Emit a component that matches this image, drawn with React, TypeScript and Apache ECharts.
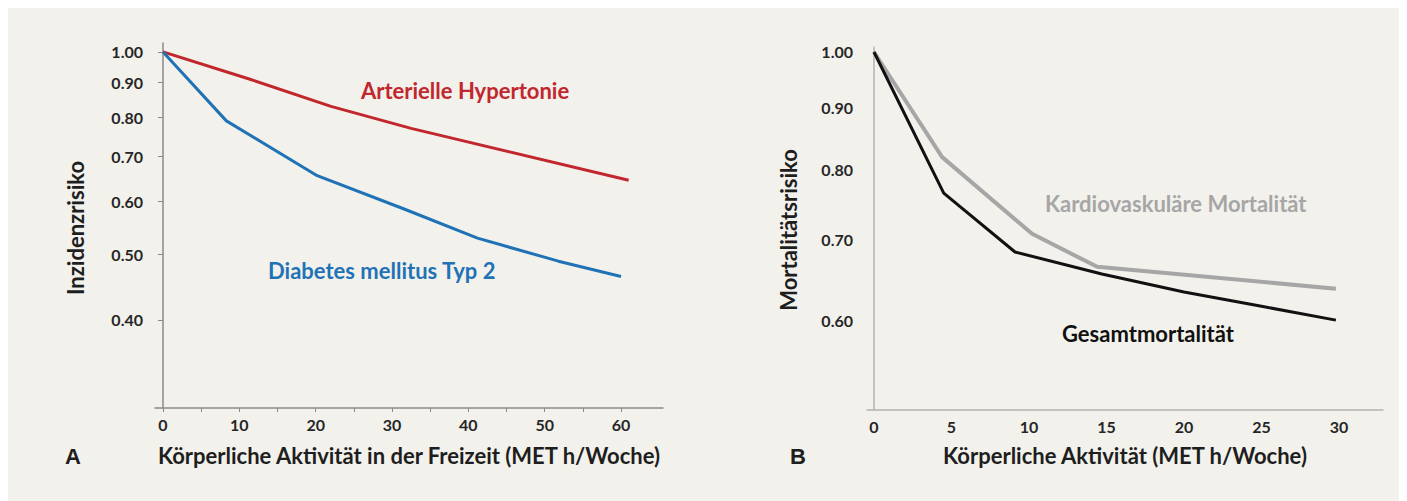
import React, { useEffect, useRef } from "react";
import * as echarts from "echarts";

// Panel A: Körperliche Aktivität in der Freizeit (MET h/Woche) vs. Inzidenzrisiko
const hyperX = [0, 11.5, 22, 32.5, 61];
const hyperY = [1.0, 0.91, 0.83, 0.77, 0.645];
const diabX = [0, 8.3, 20.2, 31.5, 41.2, 51.8, 60];
const diabY = [1.0, 0.79, 0.655, 0.585, 0.529, 0.489, 0.464];
const aYTicks = [0.4, 0.5, 0.6, 0.7, 0.8, 0.9, 1.0];
const aXLabels = [0, 10, 20, 30, 40, 50, 60];
const aXTicks = [0, 5, 10, 15, 20, 25, 30, 35, 40, 45, 50, 55, 60];

// Panel B: Körperliche Aktivität (MET h/Woche) vs. Mortalitätsrisiko
const kardioX = [0, 4.4, 10.2, 14.4, 29.8];
const kardioY = [1.0, 0.819, 0.708, 0.665, 0.638];
const gesamtX = [0, 4.5, 9.1, 14.7, 20, 25, 29.8];
const gesamtY = [1.0, 0.765, 0.684, 0.656, 0.634, 0.617, 0.601];
const bYTicks = [0.6, 0.7, 0.8, 0.9, 1.0];
const bXLabels = [0, 5, 10, 15, 20, 25, 30];

const FONT = "Lato, 'Open Sans', sans-serif";
const BG = "#f3f1ec";

const zip = (xs: number[], ys: number[]) => xs.map((x, i) => [x, ys[i]]);

export default function App() {
  const ref = useRef<HTMLDivElement>(null);
  useEffect(() => {
    if (!ref.current) return;
    const chart = echarts.init(ref.current, undefined, { renderer: "svg" });
    const labelStyle = { color: "#262626", fontFamily: FONT, fontWeight: "bold" as const, fontSize: 16 };
    const nameStyle = { color: "#1e1e1e", fontFamily: FONT, fontWeight: "bold" as const, fontSize: 22 };
    chart.setOption({
      animation: false,
      backgroundColor: BG,
      grid: [
        { left: 147, top: 35, width: 508, height: 365 },
        { left: 859, top: 39, width: 516, height: 363 },
      ],
      xAxis: [
        {
          gridIndex: 0, type: "value", min: -1.05, max: 65.5,
          splitLine: { show: false },
          axisLine: { lineStyle: { color: "#8a8a8a", width: 1.5 } },
          axisTick: { show: true, customValues: aXTicks, length: 4, lineStyle: { color: "#8a8a8a" } },
          axisLabel: { customValues: aXLabels, margin: 8, ...labelStyle },
          name: "Körperliche Aktivität in der Freizeit (MET h/Woche)",
          nameLocation: "middle", nameGap: 36, nameTextStyle: nameStyle,
        },
        {
          gridIndex: 1, type: "value", min: -0.45, max: 32.84,
          splitLine: { show: false },
          axisLine: { lineStyle: { color: "#b3b3b3", width: 1.5 } },
          axisTick: { show: false },
          axisLabel: { customValues: bXLabels, margin: 8, ...labelStyle },
          name: "Körperliche Aktivität (MET h/Woche)",
          nameLocation: "middle", nameGap: 34, nameTextStyle: nameStyle,
        },
      ],
      yAxis: [
        {
          gridIndex: 0, type: "log", min: 0.296, max: 1.031,
          splitLine: { show: false }, minorTick: { show: false },
          axisLine: { show: true, lineStyle: { color: "#8a8a8a", width: 1.5 } },
          axisTick: { show: true, customValues: aYTicks, length: 5, lineStyle: { color: "#8a8a8a" } },
          axisLabel: { customValues: aYTicks, margin: 12, formatter: (v: number) => v.toFixed(2), ...labelStyle },
        },
        {
          gridIndex: 1, type: "log", min: 0.5067, max: 1.0095,
          splitLine: { show: false }, minorTick: { show: false },
          axisLine: { show: true, lineStyle: { color: "#b3b3b3", width: 1.5 } },
          axisTick: { show: false },
          axisLabel: { customValues: bYTicks, margin: 14, formatter: (v: number) => v.toFixed(2), ...labelStyle },
        },
      ],
      series: [
        { type: "line", xAxisIndex: 0, yAxisIndex: 0, data: zip(hyperX, hyperY), symbol: "none", lineStyle: { color: "#c1272d", width: 3 } },
        { type: "line", xAxisIndex: 0, yAxisIndex: 0, data: zip(diabX, diabY), symbol: "none", lineStyle: { color: "#1f72b6", width: 3 } },
        { type: "line", xAxisIndex: 1, yAxisIndex: 1, data: zip(kardioX, kardioY), symbol: "none", lineStyle: { color: "#a6a6a6", width: 4 } },
        { type: "line", xAxisIndex: 1, yAxisIndex: 1, data: zip(gesamtX, gesamtY), symbol: "none", lineStyle: { color: "#111111", width: 3 } },
      ],
      graphic: [
        { type: "text", x: 67, y: 220, rotation: Math.PI / 2, style: { text: "Inzidenzrisiko", align: "center", verticalAlign: "middle", fill: "#1e1e1e", font: `bold 22px ${FONT}` } },
        { type: "text", x: 780, y: 222, rotation: Math.PI / 2, style: { text: "Mortalitätsrisiko", align: "center", verticalAlign: "middle", fill: "#1e1e1e", font: `bold 22px ${FONT}` } },
        { type: "text", x: 57, y: 448, style: { text: "A", align: "left", verticalAlign: "middle", fill: "#1e1e1e", font: `bold 22px Arial, 'Liberation Sans', sans-serif` } },
        { type: "text", x: 782, y: 448, style: { text: "B", align: "left", verticalAlign: "middle", fill: "#1e1e1e", font: `bold 22px Arial, 'Liberation Sans', sans-serif` } },
        { type: "text", x: 353, y: 82, style: { text: "Arterielle Hypertonie", align: "left", verticalAlign: "middle", fill: "#c1272d", font: `bold 22px ${FONT}` } },
        { type: "text", x: 260, y: 262, style: { text: "Diabetes mellitus Typ 2", align: "left", verticalAlign: "middle", fill: "#1f72b6", font: `bold 22px ${FONT}` } },
        { type: "text", x: 1037, y: 195, style: { text: "Kardiovaskuläre Mortalität", align: "left", verticalAlign: "middle", fill: "#a6a6a6", font: `bold 22px ${FONT}` } },
        { type: "text", x: 1054, y: 325, style: { text: "Gesamtmortalität", align: "left", verticalAlign: "middle", fill: "#111111", font: `bold 22px ${FONT}` } },
      ],
    });
    return () => chart.dispose();
  }, []);
  return <div ref={ref} style={{ width: 1399, height: 493, background: BG }} />;
}
